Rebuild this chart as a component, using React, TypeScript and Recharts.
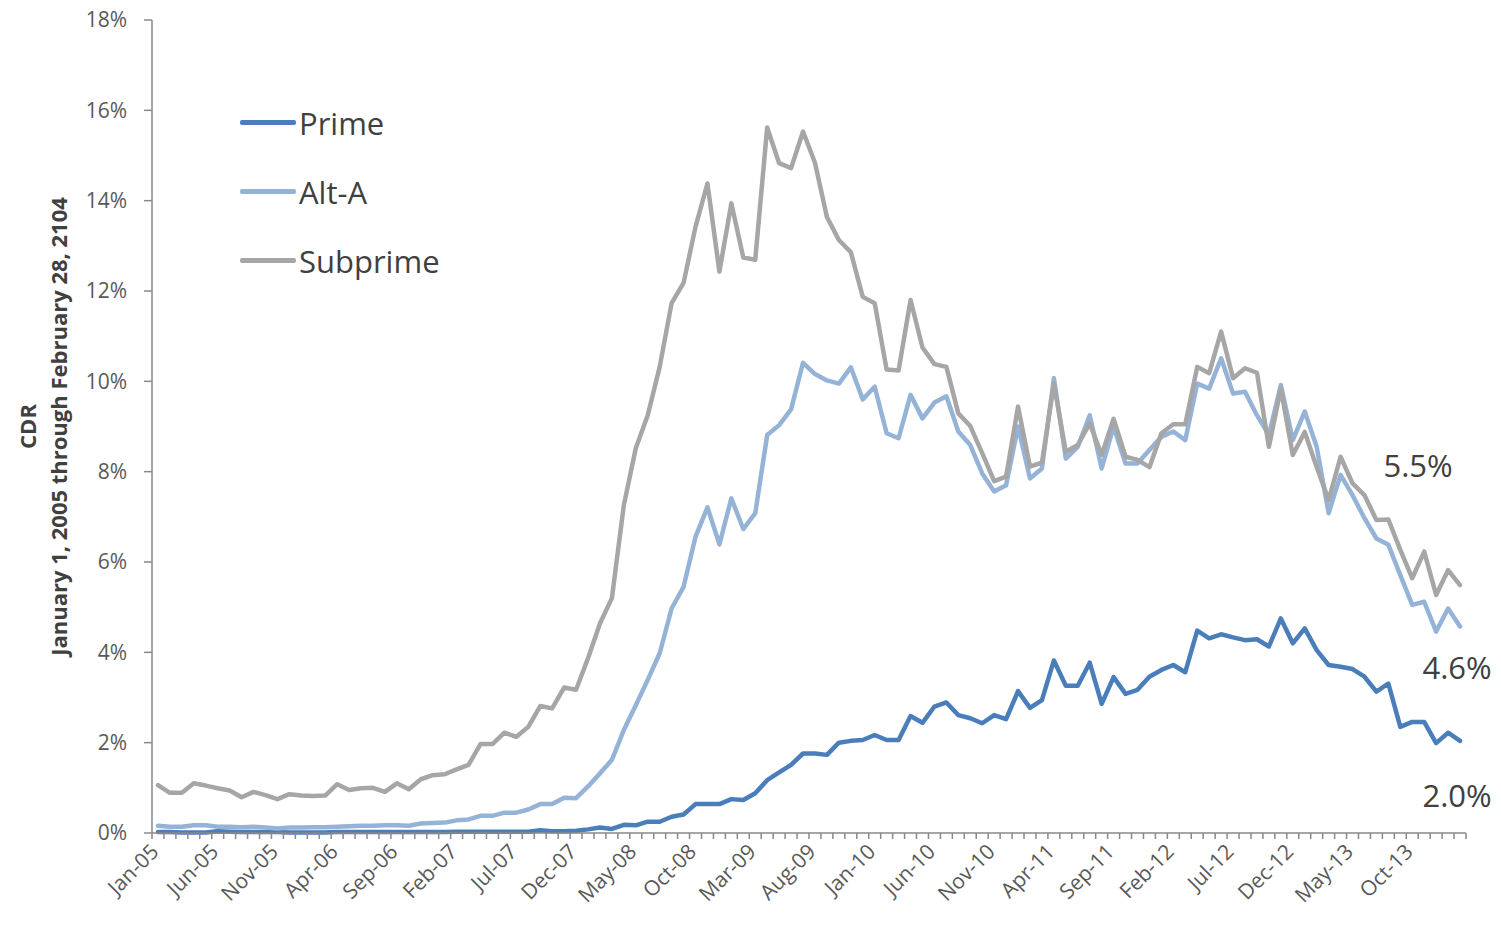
import { LineChart, Line, XAxis, YAxis, Legend, LabelList, Label } from "recharts";

const FONT = "'Open Sans', sans-serif";
const AXIS_COLOR = "#898989";
const TICK_COLOR = "#595959";
const TEXT_COLOR = "#404040";

const MONTH_NAMES = ["Jan", "Feb", "Mar", "Apr", "May", "Jun", "Jul", "Aug", "Sep", "Oct", "Nov", "Dec"];
// Jan-05 .. Feb-14, monthly
const MONTHS = Array.from(
  { length: 110 },
  (_, i) => `${MONTH_NAMES[i % 12]}-${String(5 + Math.floor(i / 12)).padStart(2, "0")}`
);

const PRIME = [
  0.02, 0.02, 0.01, 0.01, 0.01, 0.04, 0.03, 0.02, 0.02, 0.02,
  0.02, 0.01, 0.01, 0.01, 0.01, 0.02, 0.02, 0.02, 0.02, 0.02,
  0.02, 0.02, 0.02, 0.02, 0.02, 0.03, 0.03, 0.03, 0.03, 0.03,
  0.03, 0.03, 0.06, 0.04, 0.04, 0.05, 0.08, 0.12, 0.09, 0.18,
  0.17, 0.25, 0.25, 0.36, 0.41, 0.64, 0.64, 0.64, 0.75, 0.73,
  0.88, 1.17, 1.34, 1.51, 1.76, 1.76, 1.73, 2.0, 2.04, 2.06,
  2.17, 2.06, 2.06, 2.59, 2.44, 2.8, 2.89, 2.61, 2.54, 2.43,
  2.61, 2.52, 3.14, 2.77, 2.94, 3.82, 3.26, 3.26, 3.77, 2.86,
  3.45, 3.08, 3.17, 3.46, 3.61, 3.72, 3.56, 4.48, 4.31, 4.4,
  4.33, 4.27, 4.29, 4.13, 4.75, 4.2, 4.53, 4.05, 3.72, 3.68,
  3.63, 3.46, 3.13, 3.31, 2.35, 2.46, 2.46, 1.99, 2.22, 2.04,
];

const ALT_A = [
  0.16, 0.14, 0.14, 0.17, 0.17, 0.14, 0.14, 0.13, 0.14, 0.12,
  0.1, 0.12, 0.12, 0.13, 0.13, 0.14, 0.15, 0.16, 0.16, 0.17,
  0.17, 0.16, 0.21, 0.22, 0.23, 0.28, 0.3, 0.38, 0.38, 0.45,
  0.45, 0.52, 0.64, 0.64, 0.78, 0.77, 1.03, 1.32, 1.62, 2.28,
  2.83, 3.39, 3.98, 4.97, 5.45, 6.56, 7.21, 6.39, 7.41, 6.73,
  7.08, 8.81, 9.03, 9.38, 10.41, 10.16, 10.02, 9.95, 10.31, 9.6,
  9.88, 8.85, 8.74, 9.7, 9.18, 9.53, 9.67, 8.89, 8.59, 7.96,
  7.56, 7.7, 9.0, 7.85, 8.07, 10.07, 8.29, 8.55, 9.25, 8.07,
  9.0, 8.18, 8.18, 8.48, 8.77, 8.89, 8.7, 9.95, 9.84, 10.51,
  9.73, 9.77, 9.25, 8.81, 9.92, 8.7, 9.33, 8.55, 7.08, 7.93,
  7.48, 6.97, 6.52, 6.38, 5.71, 5.05, 5.12, 4.46, 4.97, 4.57,
];

const SUBPRIME = [
  1.06, 0.89, 0.89, 1.1, 1.05, 0.99, 0.94, 0.79, 0.91, 0.84,
  0.75, 0.86, 0.83, 0.82, 0.83, 1.08, 0.95, 0.99, 1.0, 0.91,
  1.1, 0.97, 1.19, 1.28, 1.3, 1.41, 1.51, 1.97, 1.97, 2.22,
  2.13, 2.35, 2.81, 2.76, 3.22, 3.17, 3.87, 4.64, 5.2, 7.26,
  8.52, 9.25, 10.32, 11.73, 12.18, 13.42, 14.38, 12.43, 13.94, 12.74,
  12.69, 15.62, 14.83, 14.72, 15.53, 14.84, 13.64, 13.13, 12.86, 11.87,
  11.73, 10.26, 10.24, 11.8, 10.75, 10.38, 10.32, 9.29, 9.01, 8.41,
  7.79, 7.89, 9.44, 8.11, 8.2, 9.95, 8.44, 8.59, 9.07, 8.37,
  9.17, 8.33, 8.26, 8.1, 8.85, 9.05, 9.05, 10.32, 10.18, 11.1,
  10.07, 10.29, 10.19, 8.55, 9.84, 8.37, 8.88, 8.1, 7.37, 8.33,
  7.74, 7.48, 6.93, 6.94, 6.27, 5.64, 6.23, 5.27, 5.82, 5.49,
];

const SERIES_ORDER = ["Prime", "Alt-A", "Subprime"];
const Y_TICKS = [0, 2, 4, 6, 8, 10, 12, 14, 16, 18];
const LABEL_EVERY = 5;

const rows = MONTHS.map((month, i) => ({
  i,
  month,
  prime: PRIME[i],
  altA: ALT_A[i],
  subprime: SUBPRIME[i],
}));

// tick marks sit on the boundaries between months
const X_BOUNDS = Array.from({ length: MONTHS.length + 1 }, (_, k) => k - 0.5);

const WIDTH = 1501;
const HEIGHT = 927;
const MARGIN = { top: 20, right: 35, bottom: 0, left: 0 };
const Y_AXIS_W = 152;
const STEP = (WIDTH - MARGIN.right - Y_AXIS_W) / MONTHS.length;

function MonthTick(props: any) {
  const { x, y, payload } = props;
  const cat = payload.value + 0.5;
  const showLabel = cat % LABEL_EVERY === 0 && cat < MONTHS.length;
  const lx = x + STEP / 2 + 2;
  const ly = y + 20;
  return (
    <g>
      <line x1={x} x2={x} y1={y} y2={y + 6} stroke={AXIS_COLOR} strokeWidth={1.5} />
      {showLabel && (
        <text
          x={lx}
          y={ly}
          textAnchor="end"
          transform={`rotate(-45 ${lx} ${ly})`}
          fill={TICK_COLOR}
          fontSize={21}
          fontFamily={FONT}
        >
          {MONTHS[cat]}
        </text>
      )}
    </g>
  );
}

function YTitle(props: any) {
  const vb = props.viewBox;
  const cy = vb.y + vb.height / 2;
  return (
    <g fill={TEXT_COLOR} fontFamily={FONT} fontWeight="bold" fontSize={22}>
      <text x={27} y={cy} textAnchor="middle" dominantBaseline="central" transform={`rotate(-90 27 ${cy})`}>
        CDR
      </text>
      <text x={58} y={cy} textAnchor="middle" dominantBaseline="central" transform={`rotate(-90 58 ${cy})`}>
        January 1, 2005 through February 28, 2104
      </text>
    </g>
  );
}

function renderLegend(props: any) {
  const items = [...(props.payload || [])].sort(
    (a: any, b: any) => SERIES_ORDER.indexOf(a.value) - SERIES_ORDER.indexOf(b.value)
  );
  return (
    <div style={{ display: "flex", flexDirection: "column" }}>
      {items.map((entry: any) => (
        <div key={entry.value} style={{ display: "flex", alignItems: "center", height: 69 }}>
          <div style={{ width: 56, height: 4.5, background: entry.color, borderRadius: 2 }} />
          <span style={{ marginLeft: 3, fontSize: 31, color: TEXT_COLOR, fontFamily: FONT, lineHeight: "normal" }}>
            {entry.value}
          </span>
        </div>
      ))}
    </div>
  );
}

const endLabel = (dx: number, dy: number) => (props: any) => {
  const { x, y, value, index } = props;
  if (index !== MONTHS.length - 1) return null;
  return (
    <text x={x + dx} y={y + dy} textAnchor="middle" fill={TEXT_COLOR} fontSize={31} fontFamily={FONT}>
      {`${Number(value).toFixed(1)}%`}
    </text>
  );
};

export default function App() {
  return (
    <div style={{ position: "absolute", left: 0, top: 0, width: WIDTH, height: HEIGHT, background: "#fff" }}>
      <LineChart width={WIDTH} height={HEIGHT} data={rows} margin={MARGIN}>
        <XAxis
          dataKey="i"
          type="number"
          domain={[-0.5, MONTHS.length - 0.5]}
          ticks={X_BOUNDS}
          interval={0}
          tickLine={false}
          tickSize={0}
          tickMargin={0}
          height={94}
          axisLine={{ stroke: AXIS_COLOR, strokeWidth: 1.5 }}
          tick={<MonthTick />}
        />
        <YAxis
          width={Y_AXIS_W}
          domain={[0, 18]}
          ticks={Y_TICKS}
          interval={0}
          tickFormatter={(v: number) => `${v}%`}
          tickSize={8}
          tickMargin={17}
          axisLine={{ stroke: AXIS_COLOR, strokeWidth: 1.5 }}
          tickLine={{ stroke: AXIS_COLOR, strokeWidth: 1.5 }}
          tick={{ fill: TICK_COLOR, fontSize: 21, fontFamily: FONT }}
        >
          <Label content={<YTitle />} />
        </YAxis>
        <Legend
          layout="vertical"
          align="center"
          verticalAlign="middle"
          itemSorter={null}
          content={renderLegend}
          wrapperStyle={{ left: 240, top: 88, width: 320, height: "auto" }}
        />
        <Line
          name="Prime"
          dataKey="prime"
          type="linear"
          stroke="#4A7EBB"
          strokeWidth={4.5}
          strokeLinejoin="round"
          strokeLinecap="round"
          dot={false}
          isAnimationActive={false}
        >
          <LabelList dataKey="prime" content={endLabel(-3, 66)} />
        </Line>
        <Line
          name="Alt-A"
          dataKey="altA"
          type="linear"
          stroke="#95B3D7"
          strokeWidth={4.5}
          strokeLinejoin="round"
          strokeLinecap="round"
          dot={false}
          isAnimationActive={false}
        >
          <LabelList dataKey="altA" content={endLabel(-3, 52)} />
        </Line>
        <Line
          name="Subprime"
          dataKey="subprime"
          type="linear"
          stroke="#A6A6A6"
          strokeWidth={4.5}
          strokeLinejoin="round"
          strokeLinecap="round"
          dot={false}
          isAnimationActive={false}
        >
          <LabelList dataKey="subprime" content={endLabel(-42, -108)} />
        </Line>
      </LineChart>
    </div>
  );
}
